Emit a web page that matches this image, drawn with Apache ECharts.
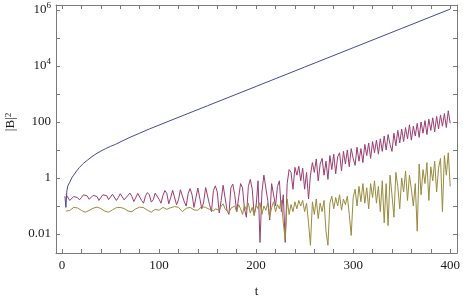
<!DOCTYPE html>
<html>
<head>
<meta charset="utf-8">
<script src="https://cdn.jsdelivr.net/npm/echarts@6/dist/echarts.min.js"></script>
<style>
html,body{margin:0;padding:0;background:#fff}
#main{width:463px;height:298px}
</style>
</head>
<body>
<div id="main"></div>
<script>
// magenta / olive curves are sampled at t = 4, 6, ..., 400
var tStart = 4, tStep = 2;

// blue curve, read at irregular t
var blueT = [3, 4, 5, 6, 8, 10, 12, 15, 18, 22, 26, 30, 35, 40, 45, 50, 55, 62, 70, 80, 90, 100, 150, 200, 250, 300, 350, 400];
var blueB2 = [0.224, 0.0891, 0.355, 0.525, 0.708, 1.0, 1.26, 1.78, 2.40, 3.31, 4.27, 5.50, 7.24, 9.12, 11.2, 13.5, 15.8, 20.9, 28.2, 39.8, 56.2, 77.6, 380, 1860, 9120, 44700, 219000, 1070000];

var magentaB2 = [
    // t 4 .. 100
    0.263, 0.240, 0.158, 0.182, 0.219, 0.240, 0.200, 0.166, 0.200, 0.251,
    0.275, 0.229, 0.174, 0.191, 0.240, 0.263, 0.219, 0.158, 0.182, 0.251,
    0.282, 0.234, 0.170, 0.200, 0.263, 0.240, 0.158, 0.200, 0.275, 0.251,
    0.166, 0.151, 0.240, 0.288, 0.219, 0.145, 0.200, 0.282, 0.263, 0.158,
    0.126, 0.229, 0.302, 0.251, 0.138, 0.166, 0.288, 0.316, 0.174,
    // t 102 .. 176
    0.126, 0.240, 0.355, 0.282, 0.120, 0.200, 0.363, 0.331, 0.112, 0.166,
    0.380, 0.398, 0.141, 0.100, 0.282, 0.417, 0.251, 0.0891, 0.200, 0.437,
    0.398, 0.0794, 0.141, 0.457, 0.479, 0.112, 0.0631, 0.355, 0.525, 0.316,
    0.0562, 0.158, 0.550, 0.501, 0.0708, 0.0501, 0.447, 0.603,
    // t 178 .. 244
    0.251, 0.0631, 0.200, 0.631, 0.447, 0.0794, 0.0398, 0.501, 0.891, 0.398,
    0.0501, 0.100, 0.794, 0.00501, 0.316, 1.26, 1.41, 0.158, 0.0316, 0.631,
    0.708, 0.100, 0.501, 0.794, 0.0631, 0.251, 0.00501, 0.631, 2.00, 1.58,
    0.398, 2.40, 1.26, 2.63,
    // t 246 .. 324
    0.794, 2.24, 0.398, 1.58, 0.178, 1.26, 3.55, 1.58, 4.79, 0.794,
    3.16, 5.01, 1.26, 3.98, 0.891, 6.31, 2.00, 7.08, 1.41, 5.62,
    7.94, 1.78, 8.91, 3.16, 10.0, 2.51, 11.2, 5.01, 2.82, 12.6,
    3.98, 11.2, 3.55, 15.8, 6.31, 17.8, 5.01, 20.0, 7.94, 22.4,
    // t 326 .. 400
    7.08, 25.1, 8.91, 31.6, 10.0, 35.5, 15.8, 8.91, 39.8, 14.1,
    50.1, 17.8, 56.2, 20.0, 63.1, 25.1, 79.4, 22.4, 70.8, 31.6,
    89.1, 28.2, 100, 39.8, 112, 35.5, 126, 50.1, 141, 44.7,
    158, 56.2, 178, 70.8, 200, 63.1, 251, 89.1
];

var oliveB2 = [
    // t 4 .. 100
    0.0661, 0.0631, 0.0692, 0.0794, 0.0891, 0.0912, 0.0851, 0.0759, 0.0692, 0.0631,
    0.0603, 0.0631, 0.0692, 0.0759, 0.0832, 0.0891, 0.0912, 0.0891, 0.0813, 0.0724,
    0.0661, 0.0617, 0.0603, 0.0646, 0.0724, 0.0813, 0.0871, 0.0912, 0.0891, 0.0891,
    0.0813, 0.0724, 0.0661, 0.0617, 0.0631, 0.0692, 0.0794, 0.0871, 0.0912, 0.0933,
    0.0871, 0.0794, 0.0708, 0.0631, 0.0603, 0.0661, 0.0759, 0.0832, 0.0708,
    // t 102 .. 176
    0.0794, 0.0891, 0.0832, 0.0759, 0.0794, 0.0871, 0.100, 0.0955, 0.105, 0.0891,
    0.0759, 0.0631, 0.0708, 0.0832, 0.0759, 0.0891, 0.0794, 0.0724, 0.0832, 0.0708,
    0.0794, 0.0955, 0.112, 0.0891, 0.100, 0.0759, 0.0832, 0.0661, 0.0794, 0.0891,
    0.0708, 0.100, 0.120, 0.0794, 0.0891, 0.0562, 0.0832, 0.0708,
    // t 178 .. 244
    0.100, 0.0631, 0.112, 0.0794, 0.0501, 0.105, 0.0708, 0.126, 0.0562, 0.0891,
    0.0447, 0.112, 0.0794, 0.132, 0.0501, 0.100, 0.0708, 0.126, 0.0398, 0.0891,
    0.141, 0.0631, 0.112, 0.0794, 0.158, 0.0251, 0.00631, 0.178, 0.0501, 0.112,
    0.0631, 0.141, 0.0794, 0.158,
    // t 246 .. 324
    0.100, 0.158, 0.0631, 0.126, 0.0251, 0.00398, 0.141, 0.0501, 0.178, 0.0355,
    0.126, 0.0631, 0.158, 0.0126, 0.00398, 0.126, 0.224, 0.0794, 0.200, 0.100,
    0.251, 0.0708, 0.178, 0.112, 0.224, 0.0501, 0.00891, 0.200, 0.398, 0.100,
    0.501, 0.141, 0.631, 0.126, 0.447, 0.0794, 0.631, 0.200, 0.794, 0.126,
    // t 326 .. 400
    0.501, 0.0631, 0.794, 0.0251, 0.631, 0.0200, 1.26, 0.251, 0.0398, 1.58,
    0.501, 0.0794, 1.00, 0.316, 1.78, 0.158, 1.26, 0.398, 0.100, 0.631,
    0.0126, 3.16, 0.251, 2.00, 0.631, 3.55, 0.158, 2.51, 0.794, 3.98,
    0.316, 2.24, 5.01, 0.0631, 6.31, 1.26, 7.94, 0.501
];

var FONT = 'Liberation Serif';
var AXIS_COLOR = '#7a7a7a';
var TEXT_COLOR = '#1a1a1a';

function withTime(values) {
    return values.map(function (v, i) { return [tStart + i * tStep, v]; });
}

function yLabel(v) {
    var e = Math.log10(v);
    var r = Math.round(e);
    if (Math.abs(e - r) > 1e-6 || r % 2 !== 0) return '';
    if (r >= 4) return '{b|10}{s|' + r + '}';
    if (r >= 0) return '{b|' + Math.pow(10, r) + '}';
    return '{b|' + Math.pow(10, r).toFixed(-r) + '}';
}

function xLabel(v) {
    return (v % 100 === 0) ? String(v) : '';
}

var xCommon = {
    type: 'value',
    min: -6.2,
    max: 407,
    splitNumber: 20,
    axisLine: { show: true, onZero: false, lineStyle: { color: AXIS_COLOR, width: 1 } },
    axisTick: { show: true, inside: true, length: 4, lineStyle: { color: AXIS_COLOR } },
    splitLine: { show: false }
};
var yCommon = {
    type: 'log',
    logBase: 10,
    min: 0.0021,
    max: 1.5e6,
    axisLine: { show: true, onZero: false, lineStyle: { color: AXIS_COLOR, width: 1 } },
    axisTick: { show: true, inside: true, length: 4, lineStyle: { color: AXIS_COLOR } },
    splitLine: { show: false }
};

var chart = echarts.init(document.getElementById('main'), null, { renderer: 'canvas' });
chart.setOption({
    animation: false,
    backgroundColor: '#fff',
    grid: { left: 56, right: 6, top: 5, bottom: 45, containLabel: false, outerBoundsMode: 'none' },
    xAxis: [
        Object.assign({}, xCommon, {
            position: 'bottom',
            name: 't',
            nameLocation: 'middle',
            nameGap: 32,
            nameTextStyle: { fontFamily: FONT, fontSize: 13, color: TEXT_COLOR },
            axisLabel: {
                show: true, margin: 6, formatter: xLabel,
                showMinLabel: false, showMaxLabel: false,
                fontFamily: FONT, fontSize: 13, color: TEXT_COLOR
            }
        }),
        Object.assign({}, xCommon, { position: 'top', axisLabel: { show: false } })
    ],
    yAxis: [
        Object.assign({}, yCommon, {
            position: 'left',
            name: '|B|{s|2}',
            nameLocation: 'middle',
            nameGap: 36,
            nameTextStyle: {
                fontFamily: FONT, fontSize: 13, color: TEXT_COLOR,
                padding: [0, 0, 0, 14],
                rich: { s: { fontFamily: FONT, fontSize: 9, color: TEXT_COLOR, verticalAlign: 'top', lineHeight: 7 } }
            },
            axisLabel: {
                show: true, margin: 5, formatter: yLabel,
                showMinLabel: false, showMaxLabel: false,
                rich: {
                    b: { fontFamily: FONT, fontSize: 13, color: TEXT_COLOR, lineHeight: 17 },
                    s: { fontFamily: FONT, fontSize: 9, color: TEXT_COLOR, verticalAlign: 'top', lineHeight: 7 }
                }
            }
        }),
        Object.assign({}, yCommon, { position: 'right', axisLabel: { show: false } })
    ],
    series: [
        {
            name: 'blue', type: 'line', showSymbol: false, xAxisIndex: 0, yAxisIndex: 0,
            lineStyle: { color: '#4848a0', width: 1 }, itemStyle: { color: '#4848a0' },
            data: blueT.map(function (t, i) { return [t, blueB2[i]]; })
        },
        {
            name: 'magenta', type: 'line', showSymbol: false, xAxisIndex: 0, yAxisIndex: 0,
            lineStyle: { color: '#9c3d72', width: 1 }, itemStyle: { color: '#9c3d72' },
            data: withTime(magentaB2)
        },
        {
            name: 'olive', type: 'line', showSymbol: false, xAxisIndex: 0, yAxisIndex: 0,
            lineStyle: { color: '#998b3d', width: 1 }, itemStyle: { color: '#998b3d' },
            data: withTime(oliveB2)
        }
    ]
});
</script>
</body>
</html>
